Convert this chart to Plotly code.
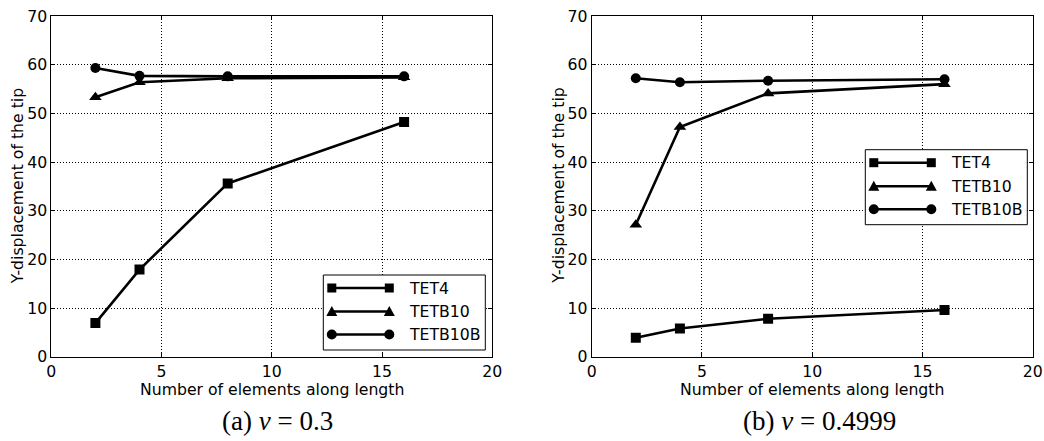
import plotly.graph_objects as go

W, H = 1044, 441

# ---- data ----
x_elements = [2, 4, 8, 16]
series_names = ["TET4", "TETB10", "TETB10B"]
series_symbols = ["square", "triangle-up", "circle"]

a_tet4 = [6.9, 17.9, 35.6, 48.2]
a_tetb10 = [53.3, 56.4, 57.2, 57.4]
a_tetb10b = [59.3, 57.7, 57.6, 57.6]

b_tet4 = [3.9, 5.8, 7.8, 9.6]
b_tetb10 = [27.1, 47.2, 54.1, 56.0]
b_tetb10b = [57.2, 56.4, 56.7, 57.0]

x_ticks = [0, 5, 10, 15, 20]
y_ticks = [0, 10, 20, 30, 40, 50, 60, 70]
captions = ["(a) <i>ν</i> = 0.3", "(b) <i>ν</i> = 0.4999"]
x_title = "Number of elements along length"
y_title = "Y-displacement of the tip"

# ---- layout helpers ----
def px(x):
    return x / W

def py(y):
    return 1 - y / H

SANS = "DejaVu Sans"
SERIF = "Liberation Serif"
FS = 15.7

fig = go.Figure()

panels = [
    ("x", "y", [a_tet4, a_tetb10, a_tetb10b]),
    ("x2", "y2", [b_tet4, b_tetb10, b_tetb10b]),
]
for xa, ya, vals in panels:
    for name, sym, v in zip(series_names, series_symbols, vals):
        fig.add_trace(go.Scatter(
            x=x_elements, y=v, name=name, xaxis=xa, yaxis=ya,
            mode="lines+markers",
            line=dict(color="black", width=2.6),
            marker=dict(symbol=sym, size=10 if sym != "triangle-up" else 11, color="black"),
            showlegend=False, hoverinfo="x+y+name",
        ))

axis_common = dict(
    showline=True, linecolor="black", linewidth=1, mirror="ticks",
    ticks="inside", ticklen=4, tickwidth=1, tickcolor="black",
    showgrid=True, gridcolor="black", gridwidth=0.8, griddash="1px,2px",
    zeroline=False, tickfont=dict(family=SANS, size=FS, color="black"),
    fixedrange=True, automargin=False,
)

ydom = [py(356.7), py(16)]
fig.update_layout(
    width=W, height=H,
    margin=dict(l=0, r=0, t=0, b=0),
    paper_bgcolor="white", plot_bgcolor="white",
    showlegend=False,
    xaxis=dict(domain=[px(51.3), px(492.3)], range=[0, 20], tickvals=x_ticks, anchor="y", **axis_common),
    yaxis=dict(domain=ydom, range=[0, 70], tickvals=y_ticks, anchor="x", **axis_common),
    xaxis2=dict(domain=[px(591.7), px(1032.7)], range=[0, 20], tickvals=x_ticks, anchor="y2", **axis_common),
    yaxis2=dict(domain=ydom, range=[0, 70], tickvals=y_ticks, anchor="x2", **axis_common),
)

annotations = []
shapes = []

# axis titles and captions
for xl, xr in [(51.3, 492.3), (591.7, 1032.7)]:
    annotations.append(dict(
        text=x_title, x=px((xl + xr) / 2), y=py(389), xref="paper", yref="paper",
        xanchor="center", yanchor="middle", showarrow=False,
        font=dict(family=SANS, size=FS, color="black")))
    annotations.append(dict(
        text=y_title, x=px(xl - 34), y=py(186), xref="paper", yref="paper",
        xanchor="center", yanchor="middle", showarrow=False, textangle=-90,
        font=dict(family=SANS, size=FS, color="black")))
for cap, cx in zip(captions, [277, 819]):
    annotations.append(dict(
        text=cap, x=px(cx), y=py(421), xref="paper", yref="paper",
        xanchor="center", yanchor="middle", showarrow=False,
        font=dict(family=SERIF, size=27, color="black")))

# custom matplotlib-style legends (box, line sample with markers at both ends, label)
def add_legend(bx, by):
    shapes.append(dict(type="rect", xref="paper", yref="paper",
                       x0=px(bx), x1=px(bx + 162), y0=py(by), y1=py(by + 75),
                       line=dict(color="black", width=1), fillcolor="white", layer="above"))
    rows = [by + 13, by + 36.5, by + 59.5]
    lx0, lx1 = bx + 8.5, bx + 66
    for name, sym, ry in zip(series_names, series_symbols, rows):
        shapes.append(dict(type="line", xref="paper", yref="paper",
                           x0=px(lx0), x1=px(lx1), y0=py(ry), y1=py(ry),
                           line=dict(color="black", width=2.6), layer="above"))
        for mx in (lx0, lx1):
            if sym == "square":
                shapes.append(dict(type="rect", xref="paper", yref="paper",
                                   x0=px(mx - 4.5), x1=px(mx + 4.5), y0=py(ry + 4.5), y1=py(ry - 4.5),
                                   line=dict(width=0), fillcolor="black", layer="above"))
            elif sym == "circle":
                shapes.append(dict(type="circle", xref="paper", yref="paper",
                                   x0=px(mx - 5), x1=px(mx + 5), y0=py(ry + 5), y1=py(ry - 5),
                                   line=dict(width=0), fillcolor="black", layer="above"))
            else:
                path = "M {},{} L {},{} L {},{} Z".format(
                    px(mx - 5.5), py(ry + 4.5), px(mx + 5.5), py(ry + 4.5), px(mx), py(ry - 5.5))
                shapes.append(dict(type="path", xref="paper", yref="paper", path=path,
                                   line=dict(width=0), fillcolor="black", layer="above"))
        annotations.append(dict(
            text=name, x=px(bx + 84), y=py(ry), xref="paper", yref="paper",
            xanchor="left", yanchor="middle", showarrow=False,
            font=dict(family=SANS, size=FS, color="black")))

add_legend(323.3, 275)
add_legend(865.3, 149.7)

fig.update_layout(annotations=annotations, shapes=shapes)
fig.write_html(
    "out.html",
    config={"displayModeBar": False},
    post_script="document.body.style.margin='0';document.body.style.overflow='hidden';",
)
